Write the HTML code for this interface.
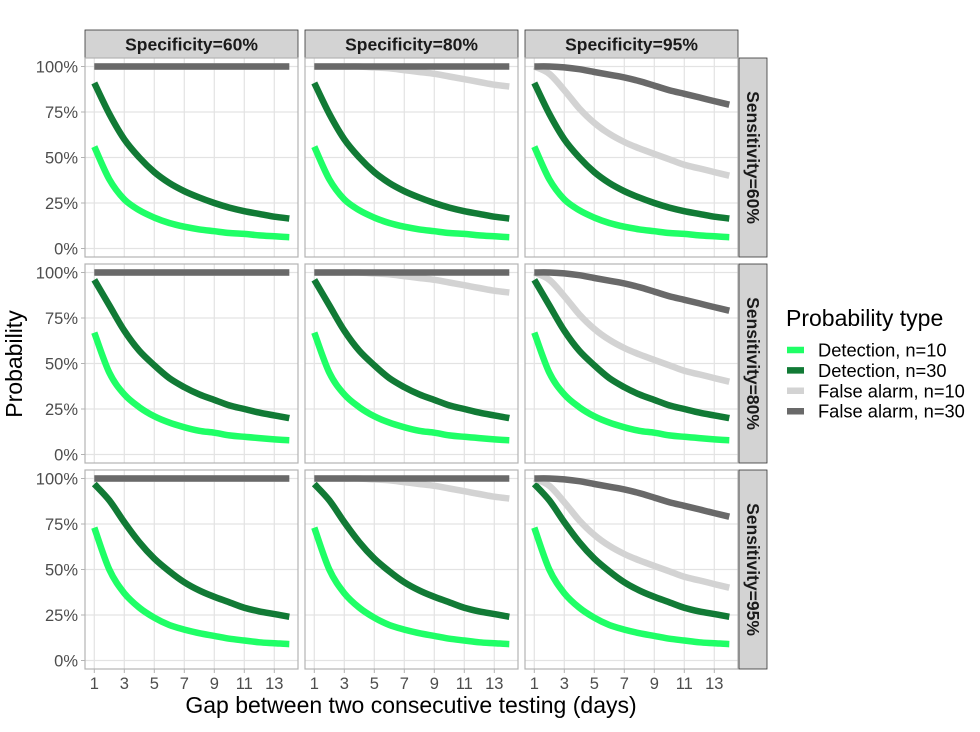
<!DOCTYPE html>
<html><head><meta charset="utf-8"><style>
body{margin:0;background:#fff;}
svg{display:block;font-family:"Liberation Sans",sans-serif;}
</style></head><body>
<svg id="c" width="980" height="732" viewBox="0 0 980 732"></svg>
<script>
const days=[1,2,3,4,5,6,7,8,9,10,11,12,13,14];
const specLabels=["Specificity=60%","Specificity=80%","Specificity=95%"];
const sensLabels=["Sensitivity=60%","Sensitivity=80%","Sensitivity=95%"];
const det10=[
 [0.56,0.38,0.27,0.21,0.17,0.14,0.12,0.105,0.095,0.085,0.08,0.072,0.067,0.062],
 [0.67,0.45,0.33,0.26,0.21,0.175,0.15,0.13,0.12,0.105,0.097,0.09,0.083,0.078],
 [0.73,0.50,0.37,0.29,0.235,0.195,0.17,0.15,0.135,0.12,0.11,0.10,0.095,0.09]];
const det30=[
 [0.91,0.74,0.60,0.50,0.42,0.36,0.315,0.28,0.25,0.225,0.205,0.19,0.175,0.165],
 [0.96,0.82,0.68,0.57,0.49,0.42,0.37,0.33,0.30,0.27,0.25,0.23,0.215,0.20],
 [0.97,0.88,0.76,0.65,0.56,0.49,0.43,0.385,0.35,0.32,0.29,0.27,0.255,0.24]];
const fa10=[
 [1,1,1,1,1,1,1,1,1,1,1,1,1,1],
 [1,1,1,1,0.995,0.99,0.98,0.97,0.96,0.945,0.93,0.915,0.90,0.89],
 [1,0.96,0.87,0.77,0.69,0.63,0.585,0.55,0.52,0.49,0.46,0.44,0.42,0.40]];
const fa30=[
 [1,1,1,1,1,1,1,1,1,1,1,1,1,1],
 [1,1,1,1,1,1,1,1,1,1,1,1,1,1],
 [1,1,0.995,0.985,0.97,0.955,0.94,0.92,0.895,0.87,0.85,0.83,0.81,0.79]];
const xTicks=[1,3,5,7,9,11,13];
const yTicks=[0,0.25,0.5,0.75,1];
const yTickLabels=["0%","25%","50%","75%","100%"];
const seriesNames=["Detection, n=10","Detection, n=30","False alarm, n=10","False alarm, n=30"];
const colors=["#1fff66","#117a35","#d3d3d3","#696969"];

const NS="http://www.w3.org/2000/svg";
const svg=document.getElementById('c');
function mk(t,a,p){const e=document.createElementNS(NS,t);for(const k in a)e.setAttribute(k,a[k]);(p||svg).appendChild(e);return e;}
const colX=[85,305,525], pw=213, rowY=[58,264,470], ph=199;
function sx(c,d){return colX[c]+9.3+(d-1)*15.0;}
function sy(r,v){return rowY[r]+ph-8.5-v*182;}
function smooth(p){
  let d="M"+p[0][0].toFixed(1)+","+p[0][1].toFixed(1);
  for(let i=0;i<p.length-1;i++){
    const p0=p[Math.max(0,i-1)],p1=p[i],p2=p[i+1],p3=p[Math.min(p.length-1,i+2)];
    const c1=[p1[0]+(p2[0]-p0[0])/6,p1[1]+(p2[1]-p0[1])/6];
    const c2=[p2[0]-(p3[0]-p1[0])/6,p2[1]-(p3[1]-p1[1])/6];
    d+=" C"+c1.map(v=>v.toFixed(1)).join(",")+" "+c2.map(v=>v.toFixed(1)).join(",")+" "+p2[0].toFixed(1)+","+p2[1].toFixed(1);
  }
  return d;
}

for(let c=0;c<3;c++){
  const s=mk('rect',{x:colX[c],y:30,width:pw,height:28,fill:"#d3d3d3",stroke:"#333","stroke-width":0.8});
  
  
  const t=mk('text',{x:colX[c]+pw/2,y:50.5,"text-anchor":"middle","font-size":17.5,"font-weight":"bold",fill:"#1a1a1a"});
  t.textContent=specLabels[c];
  
  
}
for(let r=0;r<3;r++){
  const s=mk('rect',{x:739,y:rowY[r],width:28,height:ph,fill:"#d3d3d3",stroke:"#333","stroke-width":0.8});
  
  
  const cy=rowY[r]+ph/2;
  const t=mk('text',{x:753,y:cy,"text-anchor":"middle","dominant-baseline":"central","font-size":17.5,"font-weight":"bold",fill:"#1a1a1a",transform:`rotate(90 753 ${cy})`});
  t.textContent=sensLabels[r];
  
  
}
for(let r=0;r<3;r++)for(let c=0;c<3;c++){
  const g=mk('g',{});
  
  
  mk('rect',{x:colX[c],y:rowY[r],width:pw,height:ph,fill:"#fff"},g);
  xTicks.forEach(d=>mk('line',{x1:sx(c,d),x2:sx(c,d),y1:rowY[r],y2:rowY[r]+ph,stroke:"#e3e3e3","stroke-width":1.2},g));
  yTicks.forEach(v=>mk('line',{x1:colX[c],x2:colX[c]+pw,y1:sy(r,v),y2:sy(r,v),stroke:"#e3e3e3","stroke-width":1.2},g));
  const data=[det10[r],det30[r],fa10[c],fa30[c]];
  data.forEach((vals,i)=>{
    const pts=vals.map((v,k)=>[sx(c,days[k]),sy(r,v)]);
    const pl=mk('path',{d:smooth(pts),fill:"none",stroke:colors[i],"stroke-width":6.5,"stroke-linejoin":"round"},g);
    
    
  });
  mk('rect',{x:colX[c],y:rowY[r],width:pw,height:ph,fill:"none",stroke:"#b3b3b3","stroke-width":1.2},g);
}
for(let r=0;r<3;r++){
  yTicks.forEach((v,i)=>{
    mk('line',{x1:81,x2:85,y1:sy(r,v),y2:sy(r,v),stroke:"#b3b3b3"});
    const t=mk('text',{x:78,y:sy(r,v)+6,"text-anchor":"end","font-size":16.5,fill:"#4d4d4d"});
    t.textContent=yTickLabels[i];
    
    
  });
}
for(let c=0;c<3;c++){
  xTicks.forEach(d=>{
    mk('line',{x1:sx(c,d),x2:sx(c,d),y1:669,y2:673,stroke:"#b3b3b3"});
    const t=mk('text',{x:sx(c,d),y:689,"text-anchor":"middle","font-size":16.5,fill:"#4d4d4d"});
    t.textContent=d;
    
    
  });
}
let t=mk('text',{x:411,y:713,"text-anchor":"middle","font-size":23,fill:"#000"});
t.textContent="Gap between two consecutive testing (days)";


t=mk('text',{x:22,y:364,"text-anchor":"middle","font-size":23,fill:"#000",transform:"rotate(-90 22 364)"});
t.textContent="Probability";


t=mk('text',{x:786,y:326,"font-size":23,fill:"#000"});
t.textContent="Probability type";


seriesNames.forEach((n,i)=>{
  const y=350+i*20.4;
  const l=mk('line',{x1:787,x2:804,y1:y,y2:y,stroke:colors[i],"stroke-width":6.5});
  
  
  const tt=mk('text',{x:818,y:y+6.5,"font-size":18.3,fill:"#000"});
  tt.textContent=n;
  
  
});
</script>
</body></html>
